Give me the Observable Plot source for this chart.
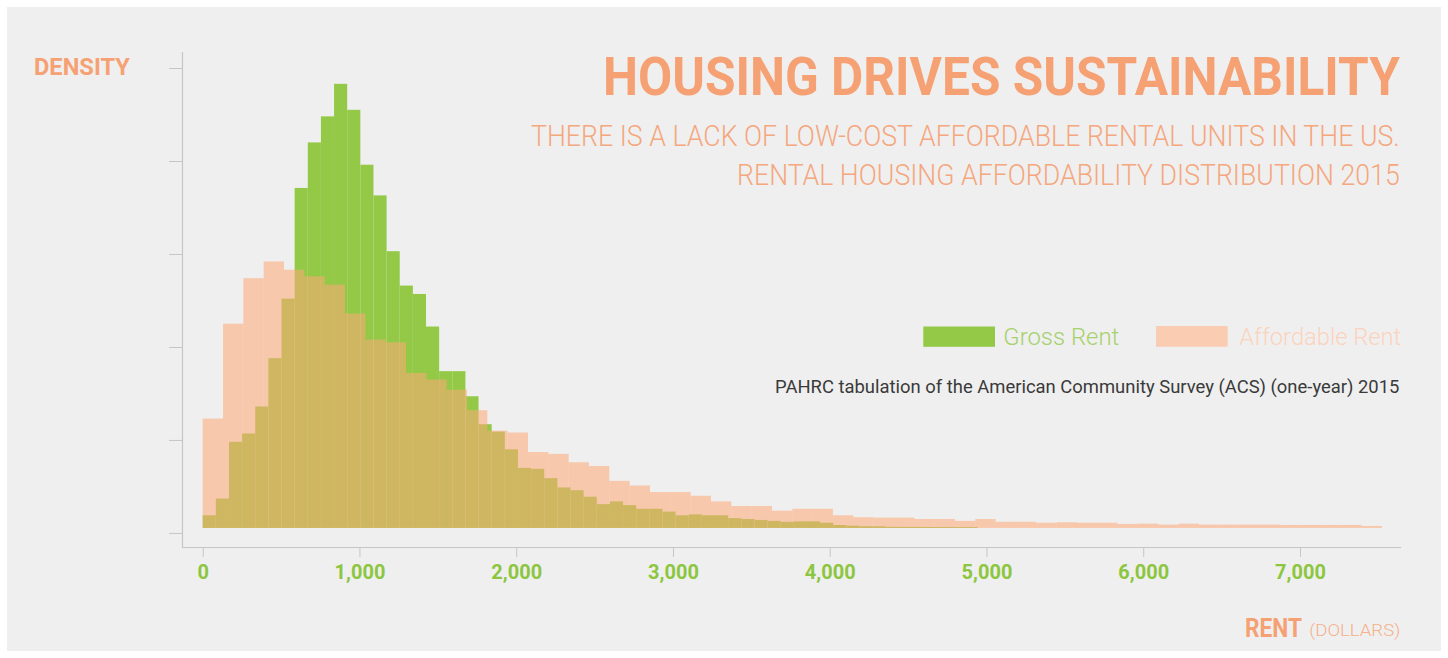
<!DOCTYPE html>
<html><head><meta charset="utf-8">
<script src="https://cdn.jsdelivr.net/npm/d3@7"></script>
<script src="https://cdn.jsdelivr.net/npm/@observablehq/plot@0.6"></script>
<style>
html,body{margin:0;padding:0;background:#fff;}
#wrap{position:relative;width:1448px;height:658px;overflow:hidden;font-family:Roboto,"Noto Sans",sans-serif;}
#bg{position:absolute;left:7px;top:7px;width:1434px;height:644px;background:#efefef;}
#chart{position:absolute;left:0;top:0;}
#ann{position:absolute;left:0;top:0;}
</style></head><body>
<div id="wrap"><div id="bg"></div><div id="chart"></div><svg id="ann" width="1448" height="658"></svg></div>
<script>
// ---- data (density in axis-tick units) ----
const grossBinWidth = 83.8;      // dollars per bin
const affordableBinWidth = 129.7; // dollars per bin
const grossRentDensity = [0.19,0.37,0.98,1.07,1.36,1.88,2.52,3.71,4.20,4.48,
  4.83,4.55,3.96,3.63,3.03,2.66,2.57,2.22,1.74,1.74,
  1.47,1.17,1.09,0.90,0.70,0.69,0.59,0.49,0.46,0.39,
  0.31,0.34,0.30,0.26,0.26,0.23,0.19,0.20,0.19,0.19,
  0.16,0.15,0.14,0.13,0.12,0.125,0.125,0.11,0.086,0.078,
  0.072,0.072,0.066,0.065,0.065,0.064,0.064,0.063,0.063];
const affordableRentDensity = [1.23,2.25,2.74,2.92,2.83,2.76,2.67,2.36,2.08,2.05,
  1.72,1.65,1.54,1.32,1.10,1.08,0.87,0.85,0.76,0.72,
  0.56,0.51,0.44,0.44,0.40,0.34,0.29,0.29,0.24,0.26,
  0.26,0.19,0.17,0.165,0.165,0.15,0.15,0.13,0.15,0.12,
  0.12,0.11,0.115,0.11,0.11,0.097,0.10,0.09,0.10,0.09,
  0.09,0.09,0.09,0.086,0.086,0.086,0.086,0.075];
const xTicks = [0,1000,2000,3000,4000,5000,6000,7000];
const yTicks = [0,1,2,3,4,5];
const seriesNames = ["Gross Rent","Affordable Rent"];

const gross = grossRentDensity.map((d,i)=>({x1:i*grossBinWidth, x2:(i+1)*grossBinWidth, density:d}));
const afford = affordableRentDensity.map((d,i)=>({x1:i*affordableBinWidth, x2:(i+1)*affordableBinWidth, density:d}));

const GREEN = "#93c947", PEACH = "#ffa978", AXIS = "#c6c6c6", ORANGE = "#f6a173";

const chart = Plot.plot({
  width:1448, height:658,
  marginLeft:182, marginRight:48, marginTop:52, marginBottom:111,
  style:{background:"transparent", fontFamily:"Roboto, sans-serif", overflow:"visible"},
  x:{domain:[-132,7638]},
  y:{domain:[-0.151,5.172]},
  marks:[
    Plot.rect(gross,{x1:"x1",x2:"x2",y1:0,y2:"density",fill:GREEN,inset:0,insetBottom:5}),
    Plot.rect(afford,{x1:"x1",x2:"x2",y1:0,y2:"density",fill:PEACH,fillOpacity:0.56,inset:0,insetBottom:5}),
    Plot.frame({anchor:"left", stroke:AXIS, strokeWidth:1.2}),
    Plot.frame({anchor:"bottom", stroke:AXIS, strokeWidth:1.2}),
    Plot.axisX({ticks:xTicks, tickFormat:d3.format(","), tickSize:10, tickPadding:7, stroke:AXIS, fill:"#8cc63f", fontSize:20, fontWeight:"bold", label:null}),
    Plot.axisY({ticks:yTicks, tickFormat:()=>"", tickSize:13, stroke:AXIS, label:null})
  ]
});
document.getElementById("chart").appendChild(chart);

// ---- annotations (scaled horizontally to the reference's widths) ----
const ann = d3.select("#ann");
function txt(s, x, y, size, weight, fill, width){
  const t = ann.append("text").attr("x",0).attr("y",0).attr("font-size",size)
    .attr("font-weight",weight).attr("fill",fill).attr("font-family","Roboto, sans-serif").text(s);
  let k = 1;
  if (width) { const w = t.node().getComputedTextLength(); if (w > 0) k = width / w; }
  t.attr("transform", `translate(${x},${y}) scale(${k},1)`);
  return t;
}
txt("HOUSING DRIVES SUSTAINABILITY", 603, 95, 53, 700, ORANGE, 797);
txt("THERE IS A LACK OF LOW-COST AFFORDABLE RENTAL UNITS IN THE US.", 531, 146, 29, 300, "#f5a77e", 869);
txt("RENTAL HOUSING AFFORDABILITY DISTRIBUTION 2015", 737, 185, 29, 300, "#f5a77e", 663);
ann.append("rect").attr("x",923.3).attr("y",326.5).attr("width",71.7).attr("height",20.3).attr("fill",GREEN);
ann.append("rect").attr("x",1156).attr("y",326).attr("width",71.7).attr("height",20.8).attr("fill","#facdb3");
txt(seriesNames[0], 1003.3, 345, 24, 300, "#a6d16d", 116);
txt(seriesNames[1], 1239.3, 345, 24, 300, "#fbd3bd", 162);
txt("PAHRC tabulation of the American Community Survey (ACS) (one-year) 2015", 775, 393, 18, 400, "#3a3a3a", 625);
txt("DENSITY", 34, 75, 24, 700, ORANGE, 96);
txt("RENT", 1245, 637, 25, 700, ORANGE, 57);
txt("(DOLLARS)", 1309.3, 636, 17, 300, "#f6b08a", 91);
</script>
</body></html>
